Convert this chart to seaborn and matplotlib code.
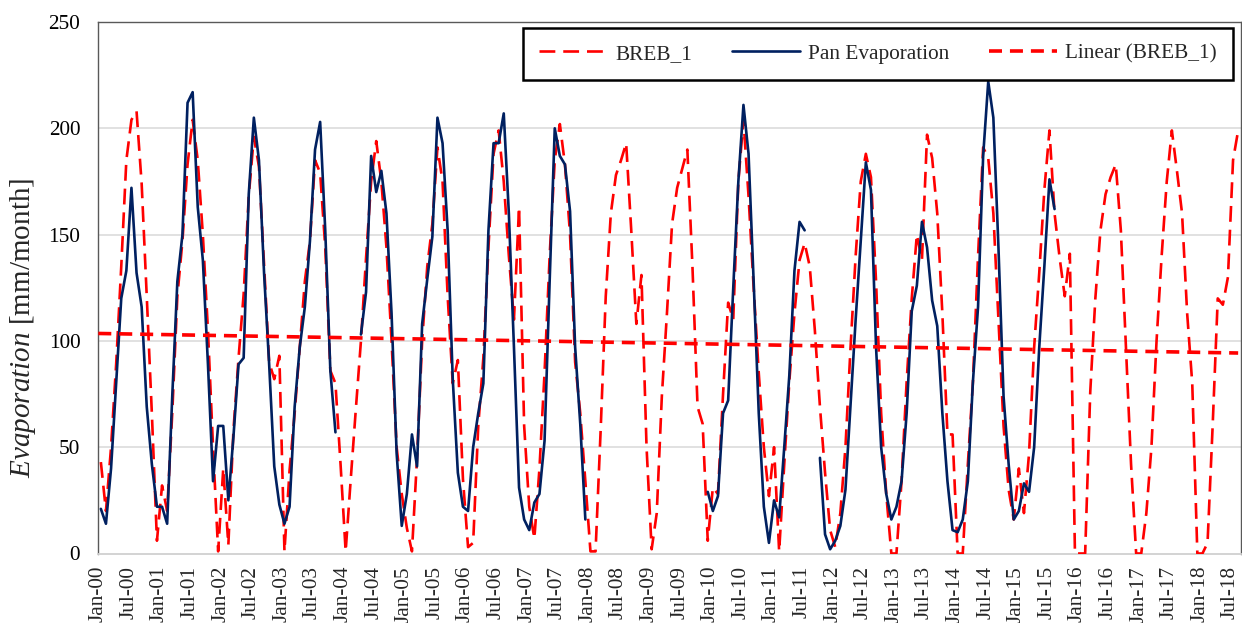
import numpy as np
import pandas as pd
import matplotlib
matplotlib.use("Agg")
import matplotlib.pyplot as plt
from matplotlib.lines import Line2D
import seaborn as sns

# ---------------- data (monthly, Jan-2000 .. Aug-2018) ----------------
breb_1 = [
    43, 20, 50, 89, 135, 185, 204, 208, 174, 121, 66, 6,        # 2000
    32, 20, 66, 121, 147, 183, 204, 185, 150, 105, 50, 1,       # 2001
    40, 4, 58, 92, 122, 168, 196, 182, 136, 90, 82, 93,         # 2002
    1, 39, 66, 97, 128, 147, 185, 179, 144, 86, 80, 42,         # 2003
    1, 35, 68, 100, 139, 175, 194, 175, 144, 100, 50, 28,       # 2004
    12, 1, 45, 100, 135, 155, 191, 175, 121, 80, 91, 35,        # 2005
    3, 5, 60, 92, 144, 188, 199, 175, 140, 110, 163, 60,        # 2006
    22, 7, 40, 85, 140, 185, 202, 183, 150, 90, 66, 34,         # 2007
    1, 1, 58, 121, 160, 178, 185, 193, 152, 108, 131, 50,       # 2008
    2, 19, 74, 113, 155, 172, 181, 190, 135, 69, 61, 6,         # 2009
    31, 28, 75, 118, 110, 175, 204, 168, 125, 85, 50, 27,       # 2010
    50, 1, 42, 81, 113, 138, 146, 135, 105, 69, 38, 11,         # 2011
    3, 19, 50, 97, 140, 175, 188, 177, 128, 66, 28, 0,          # 2012
    0, 34, 81, 120, 150, 138, 197, 186, 160, 113, 56, 56,       # 2013
    0, 0, 42, 81, 140, 191, 186, 160, 110, 60, 30, 16,          # 2014
    40, 19, 47, 97, 132, 171, 199, 160, 139, 121, 141, 0,       # 2015
    0, 0, 76, 120, 152, 169, 177, 183, 152, 97, 42, 0,          # 2016
    0, 19, 50, 100, 140, 175, 199, 180, 160, 113, 80, 0,        # 2017
    0, 5, 60, 120, 117, 130, 185, 199,                          # 2018
]

nan = np.nan
pan_evaporation = [
    21, 14, 40, 80, 120, 133, 172, 132, 116, 69, 42, 22,        # 2000
    22, 14, 74, 128, 150, 212, 217, 163, 138, 89, 34, 60,       # 2001
    60, 25, 55, 89, 92, 169, 205, 185, 132, 89, 41, 23,         # 2002
    14, 22, 69, 97, 116, 147, 190, 203, 152, 86, 57, nan,       # 2003
    nan, nan, nan, 103, 123, 187, 170, 180, 160, 113, 47, 13,   # 2004
    28, 56, 41, 108, 129, 149, 205, 193, 152, 82, 38, 22,       # 2005
    20, 50, 66, 80, 152, 193, 193, 207, 160, 97, 31, 16,        # 2006
    11, 24, 28, 53, 128, 200, 187, 183, 161, 97, 61, 16,        # 2007
    nan, nan, nan, nan, nan, nan, nan, nan, nan, nan, nan, nan, # 2008
    nan, nan, nan, nan, nan, nan, nan, nan, nan, nan, nan, 29,  # 2009
    20, 27, 66, 72, 125, 175, 211, 188, 128, 66, 22, 5,         # 2010
    25, 17, 50, 84, 133, 156, 152, nan, nan, 45, 9, 2,          # 2011
    6, 13, 30, 70, 110, 147, 184, 171, 97, 50, 28, 16,          # 2012
    22, 34, 66, 114, 126, 156, 144, 119, 107, 66, 34, 11,       # 2013
    10, 16, 34, 81, 116, 187, 222, 205, 144, 74, 42, 16,        # 2014
    20, 33, 29, 50, 97, 135, 176, 162, nan, nan, nan, nan,      # 2015
] + [nan] * 32                                                  # 2016 .. Aug-2018

# Linear (BREB_1) trend line, value at the start and end of the series
linear_breb_1 = [103.5, 94.3]

month_names = ["Jan", "Jul"]
tick_labels = [f"{month_names[(k // 6) % 2]}-{k // 12:02d}" for k in range(0, 223, 6)]

legend_labels = ["BREB_1", "Pan Evaporation", "Linear (BREB_1)"]
y_ticks = [0, 50, 100, 150, 200, 250]

# ---------------- frame ----------------
n = len(breb_1)
month_idx = np.arange(n)
xpos = month_idx + 0.5           # points centred in each month band

df = pd.DataFrame({"x": xpos, "breb": breb_1, "pan": pan_evaporation})
df["seg"] = df["pan"].isna().cumsum()
pan_df = df.dropna(subset=["pan"])

trend_df = pd.DataFrame({"x": [0.0, xpos[-1]], "y": linear_breb_1})

# ---------------- style ----------------
sns.set_style("white")
plt.rcParams["font.family"] = ["Liberation Serif", "DejaVu Serif"]
plt.rcParams["mathtext.fontset"] = "custom"
plt.rcParams["mathtext.rm"] = "Liberation Serif"
plt.rcParams["mathtext.it"] = "Liberation Serif:italic"

RED = "#FF0000"
NAVY = "#002060"

fig = plt.figure(figsize=(12.42, 6.23), dpi=100)
ax = fig.add_axes([98.3 / 1242, 1 - 553.5 / 623, (1240.7 - 98.3) / 1242, (553.5 - 22) / 623])

for y in y_ticks[1:-1]:
    ax.axhline(y, color="#d9d9d9", lw=1.1, zorder=0)

sns.lineplot(data=df, x="x", y="breb", ax=ax, color=RED, lw=1.9,
             estimator=None, legend=False, zorder=3)
ax.lines[-1].set_dashes((6, 3))

sns.lineplot(data=pan_df, x="x", y="pan", units="seg", estimator=None, ax=ax,
             color=NAVY, lw=1.9, legend=False, zorder=4)

sns.lineplot(data=trend_df, x="x", y="y", ax=ax, color=RED, lw=2.6,
             estimator=None, legend=False, zorder=5)
ax.lines[-1].set_dashes((3.6, 2.2))

ax.set_xlim(0, 224)
ax.set_ylim(0, 250)
ax.set_yticks(y_ticks)
ax.set_xticks(np.arange(0, 223, 6))
ax.set_xticklabels(tick_labels, rotation=90)
ax.tick_params(axis="y", length=0, pad=13, labelsize=15.3, colors="black")
ax.tick_params(axis="x", length=4, width=1, color="#bfbfbf", pad=5, labelsize=15.3)
ax.set_xlabel("")
ax.set_ylabel(r"$\mathit{Evaporation}$ [mm/month]", fontsize=21)
ax.yaxis.set_label_coords(-0.053, 0.425)

for side in ["left", "top", "right"]:
    ax.spines[side].set_color("#595959")
    ax.spines[side].set_linewidth(1.0)
ax.spines["bottom"].set_color("#d0d0d0")
ax.spines["bottom"].set_linewidth(1.3)

handles = [
    Line2D([], [], color=RED, lw=1.9, dashes=(6, 3)),
    Line2D([], [], color=NAVY, lw=1.9),
    Line2D([], [], color=RED, lw=2.6, dashes=(3.6, 2.2)),
]
leg = ax.legend(handles, legend_labels, ncol=3, loc="upper right",
                bbox_to_anchor=(1232.7 / 1242, 1 - 28 / 623),
                bbox_transform=fig.transFigure, borderaxespad=0,
                fontsize=15.3, frameon=True, fancybox=False,
                handlelength=3.2, handletextpad=0.4, columnspacing=1.85,
                borderpad=0.75)
leg.get_frame().set_edgecolor("black")
leg.get_frame().set_linewidth(1.8)
leg.get_frame().set_alpha(1)

fig.savefig("out.png", dpi=100)
